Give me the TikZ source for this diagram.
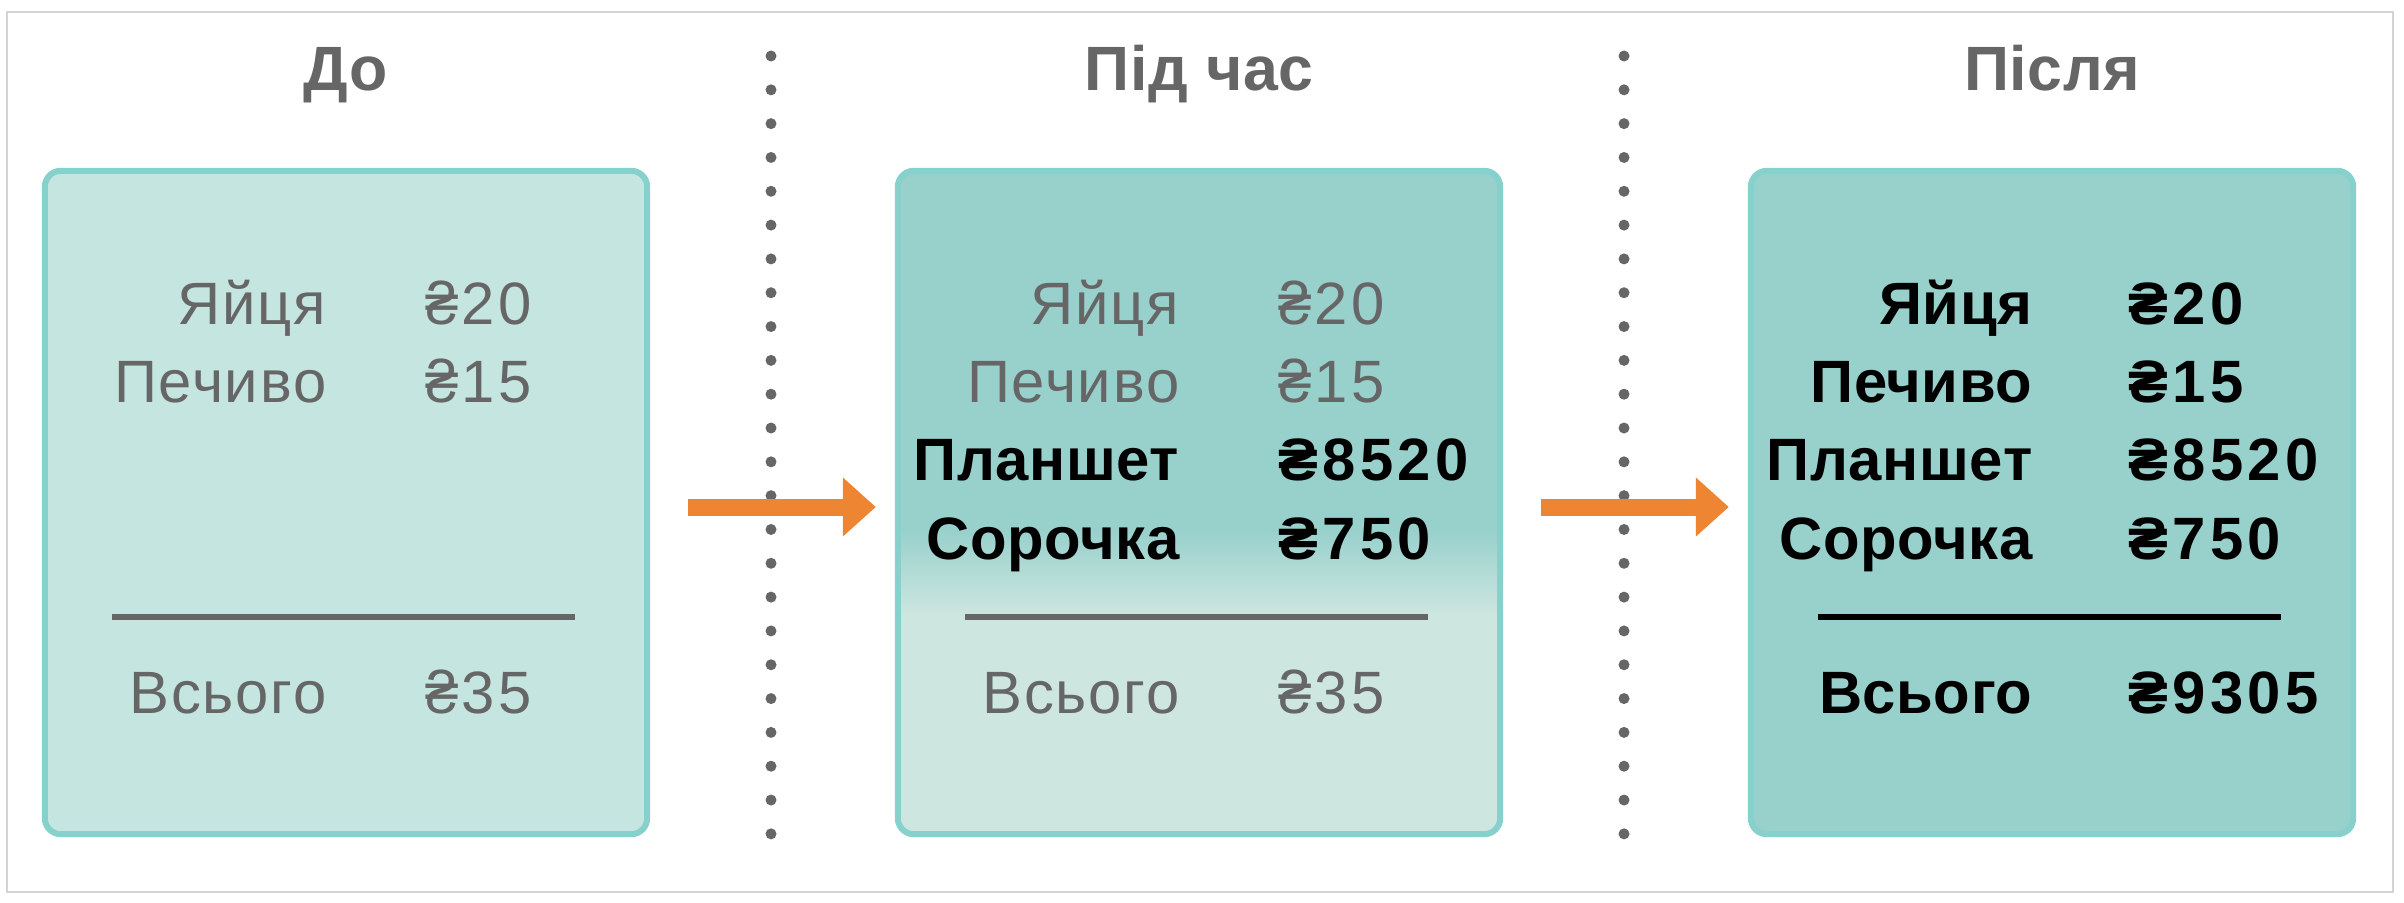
\documentclass[tikz,border=0pt]{standalone}
\usepackage{fontspec}
\setmainfont{Liberation Sans}[LetterSpace=3, BoldFeatures={LetterSpace=1}]
\newfontfamily\amountfont{Liberation Sans}[LetterSpace=5, BoldFeatures={LetterSpace=7}]
\usetikzlibrary{arrows.meta, positioning}
\definecolor{sheetedge}{HTML}{86D1CB}
\definecolor{sheetpale}{HTML}{C5E6E0}
\definecolor{sheetlight}{HTML}{CDE6E0}
\definecolor{sheetdark}{HTML}{98D0CC}
\definecolor{inkgray}{HTML}{666666}
\definecolor{flowor}{HTML}{EE8533}
\definecolor{framegray}{HTML}{D4D4D4}
\newcommand{\bodyfont}{\fontsize{17pt}{20pt}\selectfont}
\pgfdeclareverticalshading{midfade}{100bp}{color(0bp)=(sheetlight);
  color(41.5bp)=(sheetlight); color(48bp)=(sheetdark); color(100bp)=(sheetdark)}
\tikzset{
  sheet/.style={rectangle, draw=sheetedge, line width=0.06cm, rounded corners=0.16cm,
                minimum width=6.02cm, minimum height=6.63cm, inner sep=0pt},
  heading/.style={anchor=base, text=inkgray, font=\fontsize{17.8pt}{20pt}\selectfont\bfseries},
  itemlab/.style={anchor=base east, inner sep=0pt, text=inkgray, font=\bodyfont},
  itemval/.style={anchor=base west, inner sep=0pt, text=inkgray, font=\bodyfont\amountfont},
  strong/.style={text=black, font=\bodyfont\bfseries},
  strongval/.style={text=black, font=\bodyfont\amountfont\bfseries},
  flow/.style={draw=flowor, line width=0.17cm, -{Triangle[length=0.33cm, width=0.57cm]}},
  rule/.style={draw=inkgray, line width=0.06cm},
  divider/.style={draw=inkgray, line width=0.11cm, line cap=round, dash pattern=on 0pt off 0.338cm},
}

\begin{document}
\begin{tikzpicture}[x=0.01cm, y=0.01cm]
  \useasboundingbox (0,0) rectangle (2404,902);
  \draw[framegray, line width=0.015cm] (7,10) rectangle (2393,890);

  % column headings
  \node[heading] (h1) at (346,811) {До};
  \node[heading] (h2) at (1199,811) {Під час};
  \node[heading] (h3) at (2052,811) {Після};

  % dotted dividers
  \draw[divider] (771,846) -- (771,35);
  \draw[divider] (1624,846) -- (1624,35);

  % the three receipts
  \node[sheet, fill=sheetpale] (b1) at (346,399.5) {};
  \node[sheet, shade, shading=midfade] (b2) at (1199,399.5) {};
  \node[sheet, fill=sheetdark] (b3) at (2052,399.5) {};

  % before
  \node[itemlab] (y1) at (327,578) {Яйця};
  \node[itemval] (y1v) at (425,578) {₴20};
  \node[itemlab] (p1) at (327,500) {Печиво};
  \node[itemval] (p1v) at (425,500) {₴15};
  \draw[rule] (112,285) -- (575,285);
  \node[itemlab] (s1) at (327,189) {Всього};
  \node[itemval] (s1v) at (425,189) {₴35};

  % during
  \node[itemlab] (y2) at (1180,578) {Яйця};
  \node[itemval] (y2v) at (1278,578) {₴20};
  \node[itemlab] (p2) at (1180,500) {Печиво};
  \node[itemval] (p2v) at (1278,500) {₴15};
  \node[itemlab, strong] (t2) at (1180,422) {Планшет};
  \node[itemval, strongval] (t2v) at (1278,422) {₴8520};
  \node[itemlab, strong] (c2) at (1180,343) {Сорочка};
  \node[itemval, strongval] (c2v) at (1278,343) {₴750};
  \draw[rule] (965,285) -- (1428,285);
  \node[itemlab] (s2) at (1180,189) {Всього};
  \node[itemval] (s2v) at (1278,189) {₴35};

  % after
  \node[itemlab, strong] (y3) at (2033,578) {Яйця};
  \node[itemval, strongval] (y3v) at (2128,578) {₴20};
  \node[itemlab, strong] (p3) at (2033,500) {Печиво};
  \node[itemval, strongval] (p3v) at (2128,500) {₴15};
  \node[itemlab, strong] (t3) at (2033,422) {Планшет};
  \node[itemval, strongval] (t3v) at (2128,422) {₴8520};
  \node[itemlab, strong] (c3) at (2033,343) {Сорочка};
  \node[itemval, strongval] (c3v) at (2128,343) {₴750};
  \draw[rule, draw=black] (1818,285) -- (2281,285);
  \node[itemlab, strong] (s3) at (2033,189) {Всього};
  \node[itemval, strongval] (s3v) at (2128,189) {₴9305};

  \draw[flow, shorten <=0.38cm, shorten >=0.19cm] ([yshift=-0.045cm]b1.east) -- ([yshift=-0.045cm]b2.west);
  \draw[flow, shorten <=0.38cm, shorten >=0.19cm] ([yshift=-0.045cm]b2.east) -- ([yshift=-0.045cm]b3.west);
\end{tikzpicture}
\end{document}
